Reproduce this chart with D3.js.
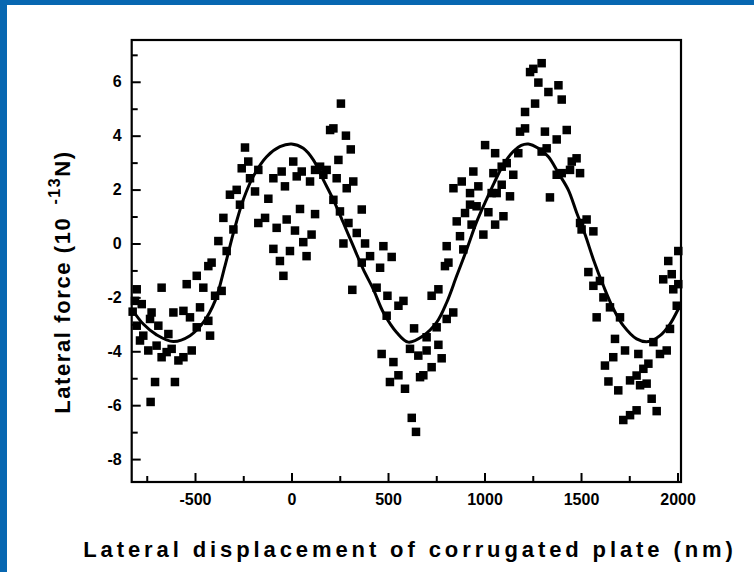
<!DOCTYPE html>
<html>
<head>
<meta charset="utf-8">
<script src="https://cdn.jsdelivr.net/npm/d3@7"></script>
<style>
  body { margin: 0; background: #fff; }
  svg { display: block; }
  text { font-family: "Liberation Sans", Arial, sans-serif; font-weight: bold; fill: #000; }
</style>
</head>
<body>
<svg id="chart" width="754" height="572"></svg>
<script>
// measured points (nm, 1e-13 N)
var scatterX = [
  -241,-258,-224,-215,-172,-189,-319,-284,-267,-353,-301,-379,-336,-414,-431,-491,-543,-457,-673,-362,
  -396,-560,-612,-474,-526,-431,-422,-491,-802,-811,-776,-823,-725,-733,-690,-802,-768,-785,-638,-742,
  -699,-673,-647,-621,-586,-560,-517,-707,-604,-730,
  -94,-51,9,53,27,96,-34,-120,44,122,-137,-172,-77,-25,18,104,61,-94,-8,-60,78,-42,
  256,200,217,282,307,243,122,148,182,165,234,320,286,217,364,251,295,338,269,381,
  476,407,519,459,364,315,441,497,554,580,493,635,467,528,554,510,588,623,645,614,
  657,700,761,778,683,666,726,700,752,804,838,726,761,795,813,804,873,856,899,925,
  959,1020,933,994,1055,1063,1037,839,882,942,968,925,1046,1003,1055,890,
  1296,1236,1253,1279,1331,1383,1400,1210,1262,1184,1210,1313,1374,1426,1322,1296,1175,1115,1089,1149,
  1089,1132,1339,1374,1400,1452,1477,1495,1443,1098,1495,1529,1564,1503,1538,1564,1598,1616,1650,1581,
  1702,1676,1728,1797,1667,1624,1642,1693,1754,1788,1823,1849,1806,1840,1866,1892,1719,1754,1788,1909,
  1944,1875,1961,1996,2004,1926,1970,1952,2004,1978
];
var scatterY = [
  3.56,2.79,3.04,2.42,2.73,1.93,1.81,1.99,1.44,0.95,0.52,0.09,-0.28,-0.71,-0.84,-1.20,-1.51,-1.64,-1.64,-1.76,
  -1.94,-2.50,-2.56,-2.37,-2.74,-2.87,-3.42,-3.11,-1.70,-2.13,-2.25,-2.53,-2.56,-2.80,-3.05,-3.05,-3.42,-3.60,-3.36,-3.97,
  -3.79,-4.22,-4.03,-3.91,-4.34,-4.22,-3.97,-5.14,-5.14,-5.88,
  2.42,2.67,3.04,2.67,2.49,2.30,2.12,1.66,1.28,1.09,0.95,0.76,0.58,0.89,0.48,0.33,0.05,-0.20,-0.28,-0.65,-0.47,-1.20,
  5.19,4.21,4.27,4.00,3.49,3.10,2.73,2.85,2.73,2.55,2.42,2.30,2.05,1.62,1.26,1.19,0.76,0.39,0.00,0.00,
  -0.10,-0.47,-0.50,-0.90,-0.71,-1.72,-1.64,-1.94,-2.31,-2.13,-2.68,-3.15,-4.10,-4.40,-4.89,-5.14,-5.39,-6.47,-6.99,-3.91,
  -4.16,-3.97,-3.76,-4.26,-4.89,-4.96,-4.59,-3.48,-3.11,-2.80,-2.56,-1.94,-1.70,-0.84,-0.71,-0.10,0.27,0.82,1.13,1.44,
  1.38,1.16,0.70,0.33,0.70,1.87,1.87,2.05,2.30,2.67,2.12,1.87,2.61,3.65,3.35,-0.22,
  6.69,6.36,6.48,5.97,5.62,5.87,5.34,4.88,5.19,4.15,4.27,4.15,3.86,4.21,3.53,3.41,3.35,2.98,2.85,2.55,
  2.18,1.75,1.71,2.55,2.61,3.04,3.16,2.61,2.73,1.01,0.76,0.89,0.45,0.52,-1.06,-1.57,-1.39,-2.00,-2.37,-2.74,
  -2.74,-3.54,-3.97,-4.10,-4.22,-4.53,-5.12,-5.45,-5.08,-4.90,-4.65,-4.46,-5.26,-5.20,-5.76,-6.22,-6.55,-6.37,-6.19,-4.10,
  -3.97,-3.66,-3.17,-2.31,-1.51,-1.33,-1.14,-0.65,-0.28,-1.70
];

// fitted curve
var fitX = [-826,-768,-699,-612,-526,-457,-396,-345,-301,-250,-198,-129,-60,0,61,113,165,217,269,320,
  372,424,476,545,605,683,752,804,856,908,959,1011,1050,1100,1150,1190,1227,1279,1331,1383,
  1434,1478,1521,1564,1616,1668,1719,1788,1849,1909,1961,2004,2016];
var fitY = [-2.45,-2.99,-3.39,-3.64,-3.42,-2.93,-2.13,-0.84,0.39,1.62,2.49,3.22,3.59,3.69,3.53,3.10,2.36,1.62,0.76,-0.10,
  -0.96,-1.70,-2.56,-3.30,-3.66,-3.42,-2.93,-2.19,-1.20,-0.22,0.80,1.65,2.25,2.95,3.42,3.64,3.69,3.53,3.22,2.61,
  1.99,1.13,0.33,-0.59,-1.57,-2.43,-3.05,-3.54,-3.64,-3.42,-2.99,-2.43,-2.25];

var xMajor = [-500, 0, 500, 1000, 1500, 2000];
var xMinor = [-750, -250, 250, 750, 1250, 1750];
var yMajor = [-8, -6, -4, -2, 0, 2, 4, 6];
var yMinor = [-7, -5, -3, -1, 1, 3, 5, 7];

var svg = d3.select('#chart');
var plotL = 131.7, plotR = 681, plotT = 40, plotB = 482;

// blue frame of the slide
svg.append('rect').attr('x', 0).attr('y', 0).attr('width', 754).attr('height', 5).attr('fill', '#0767B1');
svg.append('rect').attr('x', 0).attr('y', 0).attr('width', 7).attr('height', 572).attr('fill', '#0767B1');

var x = d3.scaleLinear().domain([-828, 2018]).range([plotL, plotR]);
var y = d3.scaleLinear().domain([-8.85, 7.55]).range([plotB, plotT]);

var plain = function(d){ return String(d); };

function styleAxis(g) {
  g.select('.domain').remove();
  g.selectAll('line').attr('stroke', '#000').attr('stroke-width', 2);
  g.selectAll('text').style('font-size', '16px').style('font-weight', 'bold');
}

svg.append('g').attr('transform', 'translate(0,' + plotB + ')')
  .call(d3.axisBottom(x).tickValues(xMajor).tickSize(-9).tickPadding(12).tickFormat(plain))
  .call(styleAxis);
svg.append('g').attr('transform', 'translate(0,' + plotB + ')')
  .call(d3.axisBottom(x).tickValues(xMinor).tickSize(-6).tickFormat(''))
  .call(styleAxis);
svg.append('g').attr('transform', 'translate(' + plotL + ',0)')
  .call(d3.axisLeft(y).tickValues(yMajor).tickSize(-9).tickPadding(10).tickFormat(plain))
  .call(styleAxis);
svg.append('g').attr('transform', 'translate(' + plotL + ',0)')
  .call(d3.axisLeft(y).tickValues(yMinor).tickSize(-6).tickFormat(''))
  .call(styleAxis);

// plot frame
svg.append('rect')
  .attr('x', plotL).attr('y', plotT)
  .attr('width', plotR - plotL).attr('height', plotB - plotT)
  .attr('fill', 'none').attr('stroke', '#000').attr('stroke-width', 2.2);

// scatter squares
var s = 8.5;
svg.append('g').selectAll('rect')
  .data(d3.range(scatterX.length))
  .enter().append('rect')
  .attr('x', function(i){ return x(scatterX[i]) - s / 2; })
  .attr('y', function(i){ return y(scatterY[i]) - s / 2; })
  .attr('width', s).attr('height', s)
  .attr('fill', '#000');

// fit line
var line = d3.line()
  .x(function(i){ return x(fitX[i]); })
  .y(function(i){ return y(fitY[i]); })
  .curve(d3.curveCatmullRom);
svg.append('path')
  .datum(d3.range(fitX.length))
  .attr('d', line)
  .attr('fill', 'none').attr('stroke', '#000').attr('stroke-width', 3);

// axis titles
svg.append('text')
  .attr('x', 410).attr('y', 557)
  .attr('text-anchor', 'middle')
  .style('font-size', '22px').style('letter-spacing', '3.9px')
  .text('Lateral displacement of corrugated plate (nm)');

var yt = svg.append('text')
  .attr('transform', 'translate(70,282) rotate(-90)')
  .attr('text-anchor', 'middle')
  .style('font-size', '22px').style('letter-spacing', '1.6px');
yt.append('tspan').text('Lateral force (10');
yt.append('tspan').attr('dx', 12).attr('dy', -10).style('font-size', '16px').text('-13');
yt.append('tspan').attr('dy', 10).text('N)');
</script>
</body>
</html>
